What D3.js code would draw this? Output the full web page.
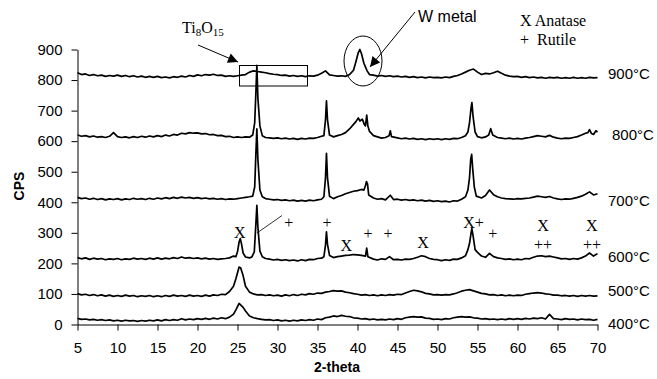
<!DOCTYPE html>
<html>
<head>
<meta charset="utf-8">
<script src="https://cdn.jsdelivr.net/npm/d3@7"></script>
<style>
body { margin: 0; background: #fff; }
svg text { font-family: "Liberation Sans", Arial, sans-serif; fill: #000; }
svg text.serif { font-family: "Liberation Serif", "Times New Roman", serif; }
</style>
</head>
<body>
<svg width="657" height="379"></svg>
<script>
// 2-theta grid of the base arrays: 5 .. 70 in 0.5 steps
var thetaStart = 5, thetaStep = 0.5;
var xTicks = [5, 10, 15, 20, 25, 30, 35, 40, 45, 50, 55, 60, 65, 70];
var yTicks = [0, 100, 200, 300, 400, 500, 600, 700, 800, 900];
var seriesNames = ["400°C", "500°C", "600°C", "700°C", "800°C", "900°C"];

// base intensities (CPS), one row = 5 degrees
var s400 = [
  20,17,18,15,17,14,16,13,15,12,
  14,11,14,12,13,10,13,11,14,12,
  15,12,16,13,16,14,19,15,18,16,
  19,17,20,17,21,18,22,19,24,34,
  60,62,44,28,22,19,17,15,16,13,
  15,12,14,11,14,12,15,13,16,14,
  18,16,22,24,28,26,30,27,26,22,
  21,18,19,16,18,15,17,15,18,16,
  19,17,22,24,26,24,25,21,20,17,
  18,16,19,18,22,24,26,24,25,22,
  21,18,19,17,18,16,18,16,19,17,
  19,17,20,18,21,19,22,18,33,19,
  18,16,19,17,18,15,18,16,17,14,
  17];
var s500 = [
  101,97,99,95,98,94,97,93,96,92,
  95,92,96,93,95,91,94,92,95,91,
  94,91,95,92,96,93,95,92,96,93,
  95,92,96,93,97,95,99,98,108,125,
  165,170,125,106,100,97,98,95,97,94,
  96,93,97,94,98,95,99,97,101,99,
  103,102,106,108,111,109,110,106,104,101,
  99,96,98,95,97,94,97,95,98,96,
  99,98,103,108,112,110,107,102,100,97,
  98,96,98,97,100,104,109,112,114,110,
  106,102,100,97,98,95,97,94,96,94,
  96,95,99,101,103,104,103,100,99,96,
  96,94,95,93,95,92,95,93,95,93,
  94];
var s600 = [
  219,215,218,213,217,214,216,212,215,213,
  216,212,215,213,217,214,216,213,217,214,
  218,214,217,215,219,216,221,217,219,216,
  218,215,217,214,216,213,215,216,218,224,
  240,262,220,218,235,330,225,216,214,211,
  213,210,212,209,211,208,212,209,213,212,
  216,217,230,222,219,222,224,226,227,229,
  228,226,225,216,214,211,215,213,222,212,
  213,211,214,213,216,220,225,222,216,213,
  212,209,212,210,214,213,218,225,250,290,
  236,224,220,233,222,218,216,213,215,212,
  214,212,216,215,220,224,225,222,224,221,
  218,215,216,213,216,214,218,224,234,224,
  232];
var s700 = [
  416,412,414,410,413,409,412,408,411,409,
  412,408,411,409,413,410,412,409,413,410,
  414,411,415,412,416,413,417,414,416,413,
  415,412,414,411,413,410,412,409,411,410,
  412,414,416,418,425,450,418,412,410,408,
  409,406,408,405,407,404,406,404,407,405,
  408,410,500,415,412,418,422,428,432,436,
  438,442,440,420,414,410,412,408,412,409,
  410,407,409,406,408,405,407,404,406,403,
  405,402,404,401,405,404,410,418,470,450,
  418,414,422,440,425,418,414,412,411,410,
  412,411,413,414,417,420,418,416,419,414,
  411,409,411,410,413,416,420,426,434,424,
  428];
var s800 = [
  620,616,618,614,617,613,615,612,616,628,
  615,612,614,611,615,612,616,613,617,614,
  618,615,620,617,622,620,626,624,628,626,
  627,624,625,621,622,618,619,615,616,612,
  614,612,614,613,620,700,616,612,611,609,
  611,608,610,607,609,606,609,607,610,609,
  612,616,700,618,614,618,622,628,640,662,
  672,660,660,640,618,614,610,612,630,612,
  611,608,610,607,609,606,608,605,608,606,
  608,605,608,606,609,608,612,618,680,660,
  615,611,614,630,618,612,610,608,610,607,
  609,607,610,612,615,618,616,614,619,613,
  610,608,610,609,612,615,620,626,636,626,
  632];
var s900 = [
  824,818,820,815,818,814,816,812,815,813,
  816,812,815,811,814,810,813,809,812,809,
  812,808,810,807,811,809,813,810,815,812,
  817,814,818,816,819,815,816,812,814,812,
  814,816,818,826,830,828,826,824,821,819,
  818,815,816,813,815,812,814,811,814,813,
  816,822,830,817,815,813,814,812,818,832,
  890,885,830,818,816,813,815,812,814,811,
  813,810,812,809,811,808,810,807,810,808,
  809,807,810,808,812,815,820,826,832,836,
  826,818,822,820,824,829,822,816,813,811,
  812,809,811,808,810,807,809,806,809,807,
  809,806,808,806,809,806,808,806,809,807,
  808];

// finer readings around the peaks: [2-theta, CPS]
var p400 = [[24.8,48],[25.2,69],[25.7,56]];
var p500 = [[24.8,150],[25.2,188],[25.4,185],[25.7,160]];
var p600 = [[24.8,222],[25.0,238],[25.2,270],[25.35,281],[25.5,264],[25.7,234],[26.0,221],
  [26.8,221],[27.1,238],[27.3,330],[27.42,390],[27.55,318],[27.8,240],[28.1,222],
  [35.8,222],[36.0,260],[36.12,303],[36.25,262],[36.5,226],
  [41.0,224],[41.15,250],[41.3,222],
  [53.8,245],[54.0,265],[54.2,300],[54.3,314],[54.45,290],[54.7,245]];
var p700 = [[26.9,420],[27.15,450],[27.3,560],[27.42,640],[27.55,540],[27.8,440],[28.1,418],
  [35.8,418],[36.0,480],[36.12,560],[36.25,480],[36.5,420],
  [40.8,440],[41.0,455],[41.12,468],[41.25,460],[41.4,424],
  [44.1,423],
  [53.8,440],[54.0,480],[54.15,540],[54.27,557],[54.4,510],[54.6,450],[54.85,420]];
var p800 = [[26.9,620],[27.15,660],[27.3,760],[27.42,848],[27.55,740],[27.8,650],[28.1,618],
  [35.8,618],[36.0,670],[36.12,732],[36.25,670],[36.5,620],
  [39.5,655],[39.8,664],[40.1,676],[40.3,666],[40.6,672],[40.85,655],[41.0,650],[41.15,685],[41.3,650],[41.5,632],
  [43.95,618],[44.1,634],[44.25,615],
  [53.8,630],[54.0,660],[54.2,710],[54.3,726],[54.45,680],[54.7,630],
  [56.4,620],[56.65,641],[56.9,620],
  [68.8,628],[69.0,638],[69.25,625],[69.5,622],[69.8,634],[70,630]];
var p900 = [[39.8,860],[40.1,890],[40.3,900],[40.5,886],[40.8,855],[41.2,830]];

// phase marks above the 600°C trace
var phaseMarks = [
  {t: "X", x: 25.3, y: 300}, {t: "+", x: 31.4, y: 335}, {t: "+", x: 36.2, y: 335},
  {t: "X", x: 38.6, y: 260}, {t: "+", x: 41.3, y: 298}, {t: "+", x: 43.8, y: 298},
  {t: "X", x: 48.2, y: 270}, {t: "X+", x: 54.5, y: 335}, {t: "+", x: 56.9, y: 298},
  {t: "X", x: 63.2, y: 325}, {t: "++", x: 63.2, y: 262},
  {t: "X", x: 69.3, y: 325}, {t: "++", x: 69.3, y: 262}];

function build(base, peaks) {
  var pts = base.map(function(v, i) { return [thetaStart + i * thetaStep, v]; })
    .filter(function(p) { return !peaks.some(function(q) { return Math.abs(q[0] - p[0]) < 0.26; }); });
  return pts.concat(peaks).sort(function(a, b) { return a[0] - b[0]; });
}

var series = [build(s400, p400), build(s500, p500), build(s600, p600),
              build(s700, p700), build(s800, p800), build(s900, p900)];

var svg = d3.select("svg");
var x = d3.scaleLinear().domain([5, 70]).range([77.5, 597.5]);
var y = d3.scaleLinear().domain([0, 900]).range([324.5, 49.5]);

svg.append("defs").append("marker")
  .attr("id", "arr").attr("viewBox", "0 0 10 10").attr("refX", 10).attr("refY", 5)
  .attr("markerWidth", 12).attr("markerHeight", 10).attr("markerUnits", "userSpaceOnUse")
  .attr("orient", "auto")
  .append("path").attr("d", "M0,0L10,5L0,10z").attr("fill", "#000");

var line = d3.line().x(function(d) { return x(d[0]); }).y(function(d) { return y(d[1]); });

svg.selectAll(".trace").data(series).enter().append("path")
  .attr("class", "trace")
  .attr("d", line)
  .attr("fill", "none").attr("stroke", "#000").attr("stroke-width", 1.7)
  .attr("stroke-linejoin", "round");

var xAxis = svg.append("g").attr("transform", "translate(0,324.5)")
  .call(d3.axisBottom(x).tickValues(xTicks).tickSize(6).tickSizeOuter(0).tickPadding(12));
var yAxis = svg.append("g").attr("transform", "translate(77.5,0)")
  .call(d3.axisLeft(y).tickValues(yTicks).tickSize(6).tickSizeOuter(0).tickPadding(9));
svg.selectAll(".tick text").attr("font-size", "15px")
  .style("font-family", '"Liberation Sans", Arial, sans-serif');
svg.selectAll(".domain, .tick line").attr("stroke", "#000");

svg.append("text").attr("x", 337).attr("y", 372).attr("text-anchor", "middle")
  .attr("font-size", "14px").attr("font-weight", "bold").text("2-theta");
svg.append("text").attr("transform", "translate(24,186) rotate(-90)").attr("text-anchor", "middle")
  .attr("font-size", "14px").attr("font-weight", "bold").text("CPS");

// temperature labels
var labelPos = [[608, 323.5], [608, 290.5], [608, 257], [608, 200.5], [612, 134.5], [608, 74]];
svg.selectAll(".tl").data(seriesNames).enter().append("text")
  .attr("class", "tl")
  .attr("x", function(d, i) { return labelPos[i][0]; })
  .attr("y", function(d, i) { return labelPos[i][1]; })
  .attr("dy", "0.36em").attr("font-size", "15px").text(function(d) { return d; });

// phase marks
svg.selectAll(".pm").data(phaseMarks).enter().append("text")
  .attr("class", "pm serif")
  .attr("x", function(d) { return x(d.x); })
  .attr("y", function(d) { return y(d.y); })
  .attr("dy", "0.35em").attr("text-anchor", "middle").attr("font-size", "16px")
  .text(function(d) { return d.t; });
svg.append("line").attr("x1", 282).attr("y1", 215.5).attr("x2", 257).attr("y2", 233)
  .attr("stroke", "#000").attr("stroke-width", 0.8);

// legend
svg.append("text").attr("class", "serif").attr("x", 520).attr("y", 26)
  .attr("font-size", "16px").text("X Anatase");
svg.append("text").attr("class", "serif").attr("x", 520).attr("y", 45)
  .attr("font-size", "16px").attr("xml:space", "preserve").text("+  Rutile");

// Ti8O15 annotation
var ti = svg.append("text").attr("class", "serif").attr("x", 182).attr("y", 33).attr("font-size", "16px");
ti.append("tspan").text("Ti");
ti.append("tspan").attr("font-size", "11px").attr("dy", 3).text("8");
ti.append("tspan").attr("dy", -3).text("O");
ti.append("tspan").attr("font-size", "11px").attr("dy", 3).text("15");
svg.append("line").attr("x1", 198).attr("y1", 45).attr("x2", 238).attr("y2", 62)
  .attr("stroke", "#000").attr("stroke-width", 1).attr("marker-end", "url(#arr)");
svg.append("rect").attr("x", 239.5).attr("y", 65.5).attr("width", 68).attr("height", 20.5)
  .attr("fill", "none").attr("stroke", "#000").attr("stroke-width", 1);

// W metal annotation
svg.append("text").attr("x", 418).attr("y", 22).attr("font-size", "16px").text("W metal");
svg.append("line").attr("x1", 415).attr("y1", 12).attr("x2", 370).attr("y2", 67)
  .attr("stroke", "#000").attr("stroke-width", 1).attr("marker-end", "url(#arr)");
svg.append("ellipse").attr("cx", 363).attr("cy", 61).attr("rx", 19).attr("ry", 25)
  .attr("fill", "none").attr("stroke", "#000").attr("stroke-width", 1);
</script>
</body>
</html>
